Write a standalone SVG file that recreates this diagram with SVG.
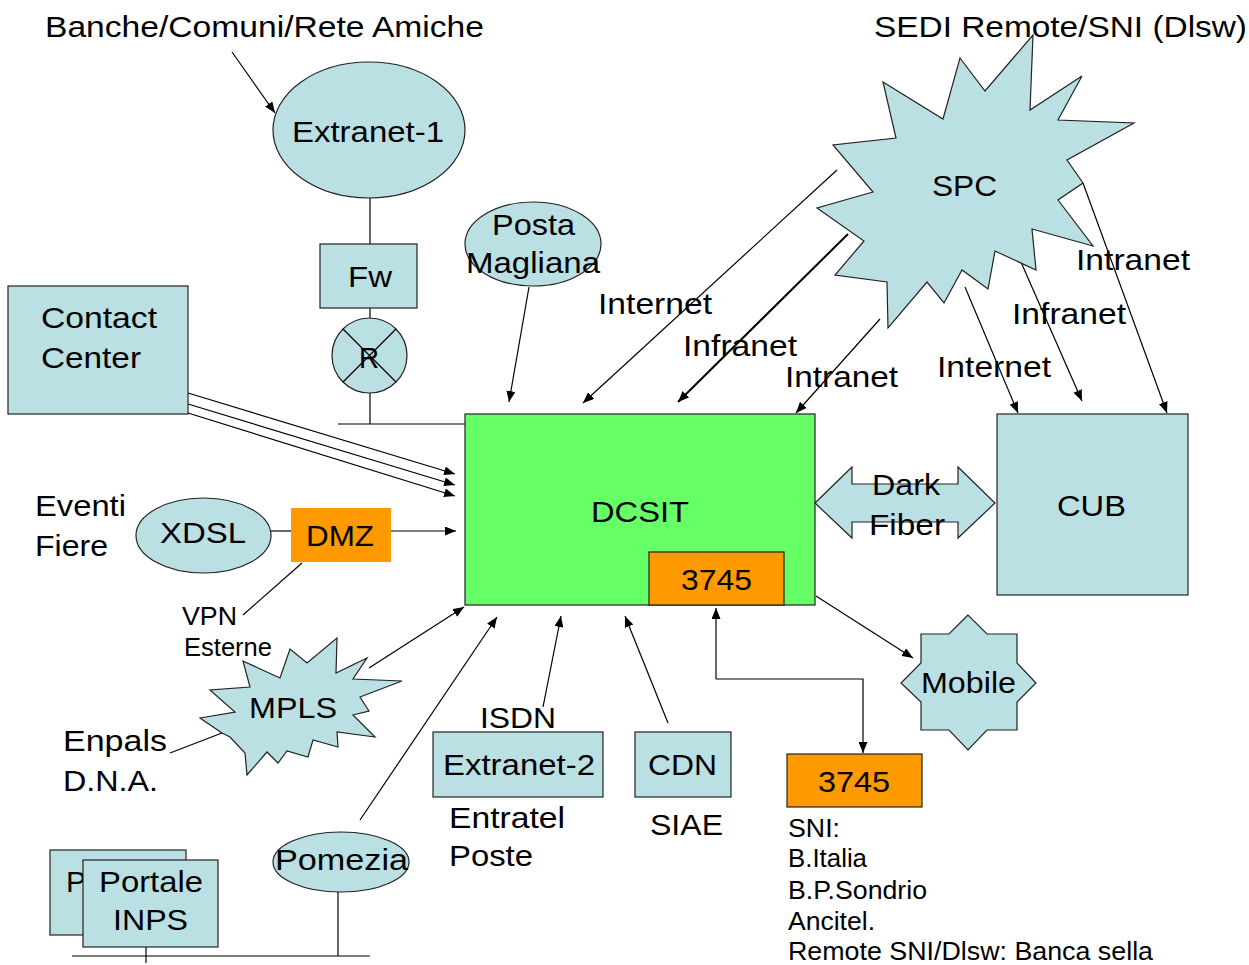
<svg xmlns="http://www.w3.org/2000/svg" width="1249" height="965" viewBox="0 0 1249 965">
<defs>
<marker id="ah" markerUnits="userSpaceOnUse" markerWidth="12" markerHeight="9" refX="11" refY="4.5" orient="auto">
<path d="M0,0 L11,4.5 L0,9 z" fill="#000"/>
</marker>
<style>
.s{fill:#BBE0E3;stroke:#222;stroke-width:1.2}
.g{fill:#66FF66;stroke:#222;stroke-width:1.2}
.o{fill:#FF9900;stroke:#222;stroke-width:1.2}
.on{fill:#FF9900;stroke:none}
.l{fill:none;stroke:#000;stroke-width:1.2}
.a{fill:none;stroke:#000;stroke-width:1.2;marker-end:url(#ah)}
.t{font-family:"Liberation Sans",Arial,sans-serif;font-size:30px;fill:#000}
.m{font-family:"Liberation Sans",Arial,sans-serif;font-size:25px;fill:#000}
</style>
</defs>
<rect width="1249" height="965" fill="#fff"/>

<g id="connectors">
<line class="a" x1="232" y1="52" x2="275" y2="113"/>
<line class="l" x1="370" y1="198" x2="370" y2="244"/>
<line class="l" x1="370" y1="308" x2="370" y2="318"/>
<line class="l" x1="370" y1="393" x2="370" y2="424"/>
<line class="l" x1="338" y1="424" x2="465" y2="424"/>
<line class="a" x1="529" y1="287" x2="509" y2="402"/>
<line class="a" x1="188" y1="393" x2="455" y2="474"/>
<line class="a" x1="188" y1="404" x2="455" y2="485"/>
<line class="a" x1="188" y1="413" x2="455" y2="496"/>
<line class="l" x1="271" y1="531" x2="291" y2="531"/>
<line class="a" x1="391" y1="531" x2="456" y2="531"/>
<line class="l" x1="302" y1="563" x2="243" y2="615"/>
<line class="a" x1="369" y1="668" x2="464" y2="607"/>
<line class="l" x1="170" y1="753" x2="222" y2="733"/>
<line class="a" x1="360" y1="820" x2="497" y2="617"/>
<line class="l" x1="338" y1="892" x2="338" y2="956"/>
<line class="l" x1="72" y1="956" x2="370" y2="956"/>
<line class="l" x1="146" y1="947" x2="146" y2="963"/>
<line class="a" x1="543" y1="707" x2="561" y2="616"/>
<line class="a" x1="668" y1="723" x2="625" y2="616"/>
<polyline class="a" points="716,679 716,608"/>
<polyline class="a" points="716,679 863,679 863,753"/>
<line class="a" x1="816" y1="596" x2="913" y2="658"/>
<line class="a" x1="837" y1="170" x2="583" y2="403"/>
<line fill="none" stroke="#000" stroke-width="2" marker-end="url(#ah)" x1="848" y1="234" x2="678" y2="402"/>
<line class="a" x1="880" y1="319" x2="796" y2="413"/>
<line class="a" x1="965" y1="287" x2="1018" y2="413"/>
<line class="a" x1="1017" y1="253" x2="1082" y2="401"/>
<line class="a" x1="1083" y1="183" x2="1167" y2="413"/>
</g>

<g id="extranet1">
<ellipse class="s" cx="369" cy="130" rx="96" ry="68"/>
<text class="t" x="292" y="142" textLength="152" lengthAdjust="spacingAndGlyphs">Extranet-1</text>
</g>
<g id="fw">
<rect class="s" x="320" y="244" width="97" height="64"/>
<text class="t" x="348" y="287" textLength="44" lengthAdjust="spacingAndGlyphs">Fw</text>
</g>
<g id="router">
<circle class="s" cx="369.5" cy="355.5" r="37.5"/>
<line class="l" x1="343" y1="329" x2="396" y2="382"/>
<line class="l" x1="396" y1="329" x2="343" y2="382"/>
<text class="t" x="359" y="368" textLength="20" lengthAdjust="spacingAndGlyphs">R</text>
</g>
<g id="posta">
<ellipse class="s" cx="533" cy="244" rx="68" ry="42"/>
<text class="t" x="492" y="235" textLength="83" lengthAdjust="spacingAndGlyphs">Posta</text>
<text class="t" x="466" y="273" textLength="134" lengthAdjust="spacingAndGlyphs">Magliana</text>
</g>
<g id="contact">
<rect class="s" x="8" y="286" width="180" height="128"/>
<text class="t" x="41" y="328" textLength="116" lengthAdjust="spacingAndGlyphs">Contact</text>
<text class="t" x="41" y="368" textLength="100" lengthAdjust="spacingAndGlyphs">Center</text>
</g>
<g id="dcsit">
<rect class="g" x="465" y="414" width="350" height="191"/>
<text class="t" x="591" y="522" textLength="98" lengthAdjust="spacingAndGlyphs">DCSIT</text>
</g>
<g id="n3745a">
<rect class="o" x="649" y="552" width="135" height="53"/>
<text class="t" x="681" y="590" textLength="71" lengthAdjust="spacingAndGlyphs">3745</text>
</g>
<g id="cub">
<rect class="s" x="997" y="414" width="191" height="181"/>
<text class="t" x="1057" y="516" textLength="69" lengthAdjust="spacingAndGlyphs">CUB</text>
</g>
<g id="darkfiber">
<polygon class="s" points="815,503 852,467 852,484 958,484 958,467 995,503 958,538 958,522 852,522 852,538"/>
<text class="t" x="872" y="495" textLength="68" lengthAdjust="spacingAndGlyphs">Dark</text>
<text class="t" x="869" y="535" textLength="76" lengthAdjust="spacingAndGlyphs">Fiber</text>
</g>
<g id="spc">
<polygon class="s" points="1033,35 1030,110 1082,76 1058,120 1134,123 1067,160 1083,183 1058,200 1093,246 1032,229 1036,270 995,251 988,289 962,270 944,303 927,282 888,328 887,282 835,275 864,241 817,208 873,192 833,145 896,138 883,82 943,119 960,58 985,91"/>
<text class="t" x="932" y="196" textLength="65" lengthAdjust="spacingAndGlyphs">SPC</text>
</g>
<g id="xdsl">
<ellipse class="s" cx="203.5" cy="535.5" rx="67.5" ry="37.5"/>
<text class="t" x="160" y="543" textLength="86" lengthAdjust="spacingAndGlyphs">XDSL</text>
</g>
<g id="dmz">
<rect class="on" x="291" y="508" width="100" height="54"/>
<text class="t" x="306" y="546" textLength="68" lengthAdjust="spacingAndGlyphs">DMZ</text>
</g>
<g id="mpls">
<polygon class="s" points="337,638 336,673 367,658 353,679 402,681 360,697 369,711 353,715 375,737 337,732 338,747 313,740 308,757 287,751 278,763 267,752 247,775 245,753 230,737 222,733 200,718 235,712 210,690 250,687 243,661 280,678 290,649 307,663"/>
<text class="t" x="249" y="718" textLength="88" lengthAdjust="spacingAndGlyphs">MPLS</text>
</g>
<g id="pomezia">
<ellipse class="s" cx="341" cy="862" rx="68" ry="30"/>
<text class="t" x="275" y="870" textLength="133" lengthAdjust="spacingAndGlyphs">Pomezia</text>
</g>
<g id="portale">
<rect class="s" x="50" y="850" width="136" height="85"/>
<text class="t" x="66" y="892">P</text>
<rect class="s" x="83" y="860" width="135" height="87"/>
<text class="t" x="99" y="892" textLength="104" lengthAdjust="spacingAndGlyphs">Portale</text>
<text class="t" x="113" y="930" textLength="75" lengthAdjust="spacingAndGlyphs">INPS</text>
</g>
<g id="extranet2">
<rect class="s" x="433" y="732" width="170" height="65"/>
<text class="t" x="443" y="775" textLength="152" lengthAdjust="spacingAndGlyphs">Extranet-2</text>
</g>
<g id="cdn">
<rect class="s" x="635" y="732" width="96" height="65"/>
<text class="t" x="648" y="775" textLength="69" lengthAdjust="spacingAndGlyphs">CDN</text>
</g>
<g id="n3745b">
<rect class="o" x="787" y="754" width="135" height="53"/>
<text class="t" x="818" y="792" textLength="72" lengthAdjust="spacingAndGlyphs">3745</text>
</g>
<g id="mobile">
<polygon class="s" points="968,615 949,634 921,634 921,663 901,683 921,702 921,730 949,730 968,750 987,730 1017,730 1017,702 1036,683 1017,663 1017,634 987,634"/>
<text class="t" x="921" y="693" textLength="95" lengthAdjust="spacingAndGlyphs">Mobile</text>
</g>

<g id="labels">
<text class="t" x="45" y="37" textLength="439" lengthAdjust="spacingAndGlyphs">Banche/Comuni/Rete Amiche</text>
<text class="t" x="874" y="37" textLength="373" lengthAdjust="spacingAndGlyphs">SEDI Remote/SNI (Dlsw)</text>
<text class="t" x="35" y="516" textLength="91" lengthAdjust="spacingAndGlyphs">Eventi</text>
<text class="t" x="35" y="556" textLength="73" lengthAdjust="spacingAndGlyphs">Fiere</text>
<text class="m" x="182" y="625" textLength="55" lengthAdjust="spacingAndGlyphs">VPN</text>
<text class="m" x="184" y="656" textLength="88" lengthAdjust="spacingAndGlyphs">Esterne</text>
<text class="t" x="63" y="751" textLength="104" lengthAdjust="spacingAndGlyphs">Enpals</text>
<text class="t" x="63" y="791" textLength="95" lengthAdjust="spacingAndGlyphs">D.N.A.</text>
<text class="t" x="480" y="728" textLength="76" lengthAdjust="spacingAndGlyphs">ISDN</text>
<text class="t" x="449" y="828" textLength="116" lengthAdjust="spacingAndGlyphs">Entratel</text>
<text class="t" x="449" y="866" textLength="84" lengthAdjust="spacingAndGlyphs">Poste</text>
<text class="t" x="650" y="835" textLength="73" lengthAdjust="spacingAndGlyphs">SIAE</text>
<text class="m" x="788" y="837" textLength="52" lengthAdjust="spacingAndGlyphs">SNI:</text>
<text class="m" x="788" y="867" textLength="79" lengthAdjust="spacingAndGlyphs">B.Italia</text>
<text class="m" x="788" y="899" textLength="139" lengthAdjust="spacingAndGlyphs">B.P.Sondrio</text>
<text class="m" x="788" y="930" textLength="87" lengthAdjust="spacingAndGlyphs">Ancitel.</text>
<text class="m" x="788" y="960" textLength="365" lengthAdjust="spacingAndGlyphs">Remote SNI/Dlsw: Banca sella</text>
<text class="t" x="598" y="314" textLength="114" lengthAdjust="spacingAndGlyphs">Internet</text>
<text class="t" x="683" y="356" textLength="114" lengthAdjust="spacingAndGlyphs">Infranet</text>
<text class="t" x="785" y="387" textLength="113" lengthAdjust="spacingAndGlyphs">Intranet</text>
<text class="t" x="1076" y="270" textLength="114" lengthAdjust="spacingAndGlyphs">Intranet</text>
<text class="t" x="1012" y="324" textLength="114" lengthAdjust="spacingAndGlyphs">Infranet</text>
<text class="t" x="937" y="377" textLength="114" lengthAdjust="spacingAndGlyphs">Internet</text>
</g>
</svg>
